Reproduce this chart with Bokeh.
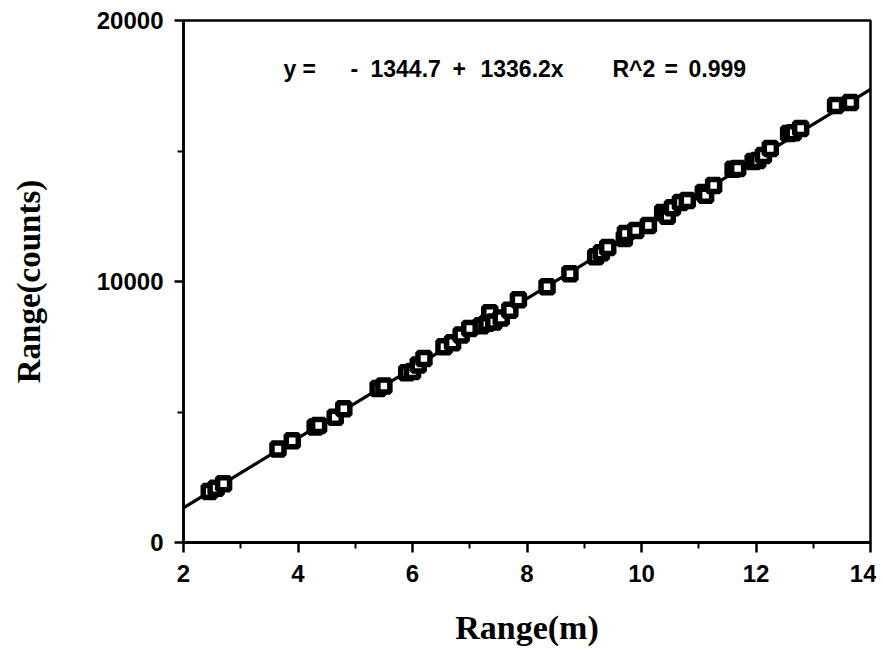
from bokeh.plotting import figure
from bokeh.models import ColumnDataSource, FixedTicker, Label, Range1d
from bokeh.embed import file_html
from bokeh.resources import INLINE

# ---- data ----
range_m = [2.45, 2.57, 2.70, 3.65, 3.90, 4.30, 4.36, 4.65, 4.80, 5.40, 5.50,
           5.90, 6.00, 6.10, 6.20, 6.55, 6.70, 6.85, 7.00, 7.20, 7.30, 7.35,
           7.42, 7.55, 7.70, 7.85, 8.35, 8.75, 9.20, 9.30, 9.41, 9.70, 9.72,
           9.90, 10.12, 10.37, 10.45, 10.54, 10.68, 10.80, 11.08, 11.12, 11.26,
           11.60, 11.68, 11.95, 12.03, 12.13, 12.25, 12.57, 12.65, 12.78,
           13.39, 13.65]
range_counts = [1950, 2080, 2250, 3580, 3900, 4430, 4480, 4800, 5120, 5900, 6000,
                6500, 6550, 6800, 7050, 7500, 7650, 7950, 8200, 8300, 8400, 8800,
                8450, 8600, 8900, 9300, 9800, 10300, 10950, 11100, 11300, 11650, 11840,
                11950, 12150, 12640, 12500, 12830, 13030, 13100, 13410, 13300, 13680,
                14300, 14330, 14600, 14640, 14830, 15100, 15670, 15700, 15860,
                16740, 16860]

fit_intercept = -1344.7
fit_slope = 1336.2
fit_r2 = 0.999

x_ticks = [2, 4, 6, 8, 10, 12, 14]
x_minor = [3, 5, 7, 9, 11, 13]
y_ticks = [0, 10000, 20000]
y_minor = [5000, 15000]

TICK_FONT = "Liberation Sans"
LABEL_FONT = "Liberation Serif"

p = figure(width=876, height=652, output_backend="svg", toolbar_location=None,
           x_range=Range1d(2, 14), y_range=Range1d(0, 20000),
           min_border_left=183, min_border_right=6, min_border_top=20,
           min_border_bottom=110)
p.background_fill_color = "white"
p.border_fill_color = "white"
p.grid.visible = False
p.outline_line_color = "black"
p.outline_line_width = 2.5

# fit line
fx = [x_ticks[0], x_ticks[-1]]
fy = [fit_intercept + fit_slope * v for v in fx]
p.line(fx, fy, line_color="black", line_width=3.2)

src = ColumnDataSource(dict(x=range_m, y=range_counts))
p.scatter("x", "y", source=src, marker="square", size=12, fill_color="white",
          line_color="black", line_width=5.5)

# axes
xa = p.xaxis[0]
xa.ticker = FixedTicker(ticks=x_ticks, minor_ticks=x_minor)
xa.axis_line_width = 3
xa.major_tick_in = 0
xa.major_tick_out = 10
xa.major_tick_line_width = 2.5
xa.minor_tick_in = 0
xa.minor_tick_out = 6
xa.minor_tick_line_width = 2
xa.major_label_text_font = TICK_FONT
xa.major_label_text_font_style = "bold"
xa.major_label_text_font_size = "24px"
xa.major_label_text_color = "black"
xa.major_label_standoff = 12
xa.axis_label = "Range(m)"
xa.axis_label_text_font = LABEL_FONT
xa.axis_label_text_font_style = "bold"
xa.axis_label_text_font_size = "34px"
xa.axis_label_text_color = "black"
xa.axis_label_standoff = 24

ya = p.yaxis[0]
ya.ticker = FixedTicker(ticks=y_ticks, minor_ticks=y_minor)
ya.axis_line_width = 2.5
ya.major_tick_in = 0
ya.major_tick_out = 9
ya.major_tick_line_width = 2.5
ya.minor_tick_in = 0
ya.minor_tick_out = 6
ya.minor_tick_line_width = 2
ya.major_label_text_font = TICK_FONT
ya.major_label_text_font_style = "bold"
ya.major_label_text_font_size = "24px"
ya.major_label_text_color = "black"
ya.major_label_standoff = 11
ya.axis_label = "Range(counts)"
ya.axis_label_text_font = LABEL_FONT
ya.axis_label_text_font_style = "bold"
ya.axis_label_text_font_size = "33px"
ya.axis_label_text_color = "black"
ya.axis_label_standoff = 47

# equation annotation, token by token
def px2x(px):
    return x_ticks[0] + (px - 183) * (x_ticks[-1] - x_ticks[0]) / 687.0

eq_y = 18150
lab_font = dict(text_font=TICK_FONT, text_font_style="bold",
                text_font_size="23px", text_color="black",
                text_baseline="middle", text_align="left")
tokens = [
    (283, "y"), (302, "="), (350, "-"),
    (370, f"{abs(fit_intercept):.1f}"), (452, "+"), (480, f"{fit_slope:.1f}x"),
    (612, "R^2"), (664, "="), (688, f"{fit_r2:.3f}"),
]
for px, t in tokens:
    p.add_layout(Label(x=px2x(px), y=eq_y, text=t, **lab_font))

open("out.html", "w").write(file_html(p, INLINE))
